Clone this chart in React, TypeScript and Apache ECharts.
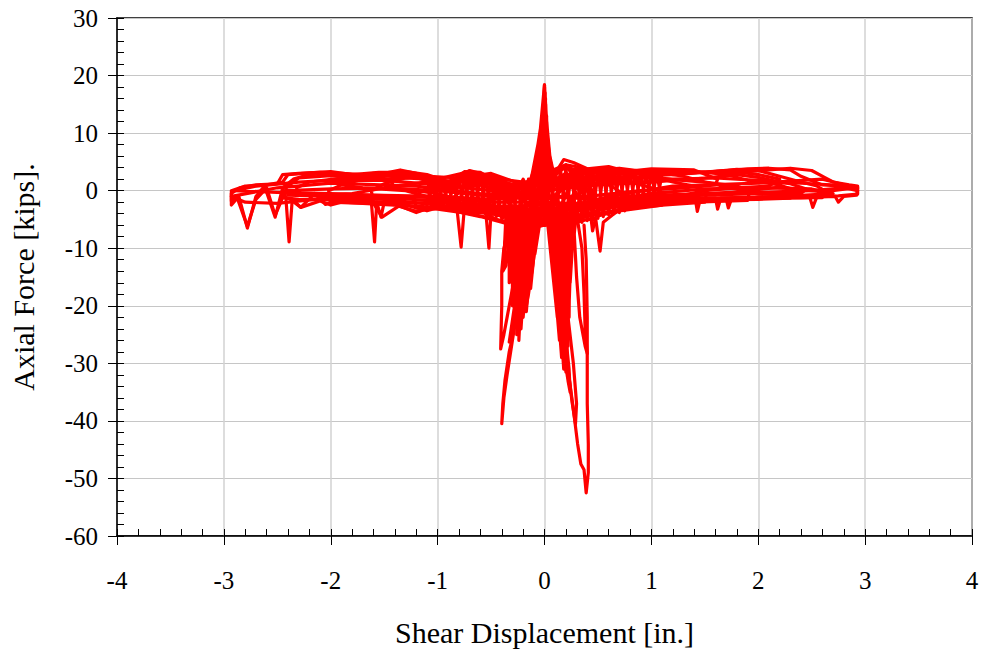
import React, { useEffect, useRef } from "react";
import * as echarts from "echarts";

// ---- axis definitions ----
const X_MIN = -4;
const X_MAX = 4;
const Y_MIN = -60;
const Y_MAX = 30;
const X_TITLE = "Shear Displacement [in.]";
const Y_TITLE = "Axial Force [kips].";

// ---- data: [shear displacement (in.), axial force (kips)] ----
const spikeUp1 = [[-0.13, 2], [-0.08, 4.5], [-0.04, 9], [-0.015, 13], [0.0, 18.4], [0.02, 12], [0.05, 6], [0.08, 3.5], [0.11, 2]];
const spikeUpFan = [[-0.13, 1.5], [-0.03, 11], [-0.115, 1.5], [-0.02, 13], [-0.1, 1.5], [-0.01, 15], [-0.085, 1.5], [0, 18.4], [-0.07, 1.5], [0.005, 17], [-0.055, 1.5], [0.01, 16], [-0.04, 1.5], [0.0, 18], [-0.025, 1.5], [0.01, 15], [-0.01, 1.5], [0.02, 13], [0.005, 1.5], [0.02, 12], [0.02, 1.5], [0.025, 10], [0.035, 1.5], [0.03, 9], [0.05, 1.5], [0.035, 8], [0.065, 1.5], [0.04, 7], [0.08, 1.5], [0.045, 6], [0.095, 1.5], [0.05, 5], [0.11, 1.5]];

const centerFill = [[-0.4, -5], [-0.2, 2], [0, -6], [0.2, 3], [0.4, -4], [0.3, 4], [0.1, -5.5], [-0.1, 3], [-0.3, -5.5], [-0.05, 4], [0.15, -6], [0.35, 3], [0.45, -3], [0.2, 4.5], [-0.25, -4], [-0.45, 1], [-0.2, -6], [0.05, 3]];
const bandFillA = [[-1.1, 2.5], [-1.05, -2.6], [-1.0, 1.8], [-0.95, -2.8], [-0.9, 1.2], [-0.85, -3], [-0.8, 2.2], [-0.75, -3.2], [-0.7, 3], [-0.65, -3.5], [-0.6, 2.8], [-0.55, -4], [-0.5, 2], [-0.45, -4.5], [-0.4, 1.5], [-0.35, -5], [-0.3, 1], [-0.25, -5.5], [-0.2, 1.5], [-0.15, -5.8], [-0.1, 2.5], [-0.05, -6], [0, 3], [0.05, -6], [0.1, 3.5], [0.15, -6], [0.2, 4], [0.25, -5.8], [0.3, 3.8], [0.35, -5.5], [0.4, 3.5], [0.45, -5], [0.5, 3.5], [0.55, -4.5], [0.6, 3.6], [0.65, -4], [0.7, 3.5], [0.75, -3.5], [0.8, 3.3], [0.85, -3], [0.9, 3.2], [0.95, -2.7], [1.0, 3.2], [1.05, -2.4], [1.1, 3]];
const bandFillB = [[-1.1, -2.5], [-1.05, 2.2], [-1.0, -2.7], [-0.95, 1.5], [-0.9, -2.9], [-0.85, 1.5], [-0.8, -3.1], [-0.75, 2.6], [-0.7, -3.3], [-0.65, 3], [-0.6, -3.8], [-0.55, 2.4], [-0.5, -4.2], [-0.45, 1.8], [-0.4, -4.8], [-0.35, 1.2], [-0.3, -5.3], [-0.25, 1.2], [-0.2, -5.6], [-0.15, 2], [-0.1, -5.9], [-0.05, 2.8], [0, -6], [0.05, 3.2], [0.1, -6], [0.15, 3.8], [0.2, -5.9], [0.25, 3.9], [0.3, -5.6], [0.35, 3.6], [0.4, -5.2], [0.45, 3.5], [0.5, -4.8], [0.55, 3.5], [0.6, -4.2], [0.65, 3.6], [0.7, -3.8], [0.75, 3.4], [0.8, -3.2], [0.85, 3.2], [0.9, -2.9], [0.95, 3.2], [1.0, -2.5], [1.05, 3.1], [1.1, -2.2]];

const right8a = [[0, -3], [0.2, -4], [0.4, -3], [0.6, -2.5], [0.8, -2], [1.0, -1.8], [1.2, -1.5], [1.41, -1.3], [1.43, -3.6], [1.46, -1.3], [1.8, -1.2], [2.0, -1.1], [2.3, -1], [2.48, -1], [2.51, -2.9], [2.55, -1], [2.75, -0.9], [2.93, -0.6], [2.93, 0.8], [2.85, 1], [2.7, 1.5], [2.62, 2.3], [2.5, 3.5], [2.3, 3.9], [2.1, 3.6], [1.9, 3.3], [1.7, 3], [1.5, 3.2], [1.3, 3.5], [1.1, 3.3], [0.9, 3.4], [0.7, 3.9], [0.5, 3.6], [0.3, 3], [0.15, 2], [0, 0]];
const right8b = [[0, -2], [0.3, -3], [0.6, -2], [1.0, -1.5], [1.5, -1.3], [1.6, -1.3], [1.62, -3.2], [1.65, -1.3], [2.0, -1.2], [2.4, -1.2], [2.72, -1], [2.75, -2], [2.8, -1], [2.92, -0.8], [2.93, 0.5], [2.8, 0.8], [2.6, 1], [2.4, 2.5], [2.3, 3.6], [2.1, 3.9], [1.9, 3.8], [1.6, 3.3], [1.2, 2.8], [0.8, 3], [0.4, 2.5], [0.1, 1], [0, -1]];
const right7 = [[0, -2], [0.3, -2.5], [0.7, -2], [1.0, -1.8], [1.5, -1.5], [1.7, -1.4], [1.72, -3], [1.75, -1.4], [2.2, -1.3], [2.6, -1.2], [2.62, 0], [2.55, 0.8], [2.4, 1.5], [2.2, 2.5], [2.0, 3.5], [1.8, 3.7], [1.5, 3.2], [1.2, 3.4], [0.9, 3.2], [0.6, 3.8], [0.3, 3.5], [0.1, 1.5], [0, -1]];
const right6 = [[0, -3], [0.3, -3.5], [0.6, -2.5], [1, -2], [1.5, -1.6], [2, -1.5], [2.3, -1.3], [2.32, 0.2], [2.2, 1], [1.9, 1.8], [1.7, 2.8], [1.5, 3.2], [1.2, 3], [0.9, 3.5], [0.6, 3.2], [0.3, 2.8], [0, 1]];
const right5 = [[0, -4], [0.3, -4.5], [0.6, -3], [1, -2.3], [1.4, -2], [1.9, -1.7], [1.92, 0], [1.8, 0.8], [1.5, 1.5], [1.3, 2.5], [1.0, 3.3], [0.7, 3.6], [0.4, 3.2], [0.2, 4], [0, 2]];
const right4 = [[0, -5], [0.3, -5], [0.5, -4], [0.8, -3], [1.1, -2.5], [1.5, -2], [1.52, 0], [1.4, 0.8], [1.2, 1.5], [1.0, 2.5], [0.8, 3.2], [0.6, 4.2], [0.4, 3.8], [0.2, 4.5], [0, 3]];
const right3 = [[0, -5.5], [0.2, -5], [0.43, -4], [0.45, -7], [0.48, -4.5], [0.7, -3.5], [1.1, -2.5], [1.12, -0.5], [1.0, 0.5], [0.8, 1.5], [0.6, 2.8], [0.4, 3.8], [0.27, 4.9], [0.18, 5.4], [0.1, 3], [0, 0]];
const right2 = [[0, -6], [0.2, -6], [0.4, -5], [0.48, -5], [0.52, -10.5], [0.55, -5.5], [0.65, -4], [0.75, -3], [0.77, -1], [0.65, 0.5], [0.5, 2], [0.3, 3.5], [0.15, 4], [0, 2]];
const right1 = [[0, -5], [0.2, -5.5], [0.35, -4], [0.45, -2], [0.45, 0], [0.35, 2], [0.2, 3], [0, 1]];
const rightInner = [[0, -1], [0.5, -1.5], [1.0, -0.8], [1.5, -0.5], [2.0, -0.3], [2.5, 0], [2.8, 0.5], [2.93, 0], [2.8, 0.9], [2.5, 1.2], [2.2, 1.5], [2.0, 2.3], [1.8, 2.8], [1.5, 2.2], [1.0, 1.5], [0.5, 1], [0, 0]];
const rightMid1 = [[0, -2], [0.5, -2.5], [1, -1.2], [1.5, -0.8], [2, -0.5], [2.4, -0.5], [2.45, 0.3], [2.3, 1.2], [2.0, 1.8], [1.6, 2.2], [1.2, 2], [0.8, 2.5], [0.4, 2], [0, 0.5]];
const rightMid2 = [[0, -3], [0.5, -3], [1, -2], [1.5, 0], [1.8, 0.5], [2.1, 0.8], [2.2, 2], [2.0, 2.8], [1.7, 3.5], [1.3, 3], [1, 2.5], [0.6, 1.8], [0.3, 2], [0, -2]];
const rightMid3 = [[0, -1], [0.4, -1], [0.9, 0], [1.3, 0.5], [1.6, 1], [1.62, 2], [1.4, 3.6], [1.0, 3.8], [0.6, 3], [0.3, 4], [0, -4]];
const rightMid4 = [[0, -4], [0.6, -1], [1.2, 0.8], [2.0, 1.3], [2.6, 2], [2.75, 1.3], [2.9, 0.5], [2.6, -0.2], [2.2, 0.6], [1.8, -0.2], [1.3, -0.8], [0.8, -1], [0.3, -3]];
const rightMid5 = [[0, -2.5], [0.5, -2], [1, -0.5], [1.5, 0.3], [2, 0.5], [2.5, 0.3], [2.7, -0.5], [2.4, -0.8], [2, -0.6], [1.5, 1.5], [1, 2.2], [0.5, 2.5], [0, 1.5]];

const left8a = [[0, -3], [-0.2, -5], [-0.4, -4.5], [-0.5, -3.5], [-0.52, -10], [-0.55, -3.5], [-0.75, -3], [-0.78, -9.8], [-0.82, -3], [-1.0, -2.5], [-1.2, -3.8], [-1.4, -2.3], [-1.5, -2], [-1.53, -4.6], [-1.57, -2], [-1.59, -8.9], [-1.62, -2], [-2.0, -2], [-2.05, -2.4], [-2.15, -0.5], [-2.28, -2.9], [-2.36, -1.5], [-2.39, -8.9], [-2.42, -1.2], [-2.45, 0.5], [-2.52, -4.6], [-2.62, 0.8], [-2.7, -1], [-2.78, -6.5], [-2.86, -1], [-2.93, -2.5], [-2.93, -0.5], [-2.85, 0.5], [-2.7, 1], [-2.5, 1.2], [-2.45, 2.8], [-2.3, 3], [-2.1, 3.2], [-1.9, 3], [-1.7, 2.8], [-1.5, 3], [-1.35, 3.6], [-1.2, 3], [-1.05, 1.5], [-0.9, 1.2], [-0.75, 3.3], [-0.6, 3.2], [-0.45, 1.5], [-0.25, 1], [-0.1, 2], [0, 0]];
const left8b = [[0, -2], [-0.3, -3], [-0.6, -2.5], [-1, -2], [-1.3, -2.2], [-1.7, -1.8], [-2, -1.6], [-2.3, -1.5], [-2.45, -1.2], [-2.52, -4.3], [-2.6, 0.5], [-2.7, -1.5], [-2.78, -6.2], [-2.88, -1], [-2.93, -1.8], [-2.93, 0], [-2.8, 0.8], [-2.6, 1], [-2.45, 1.5], [-2.4, 2.8], [-2.2, 3.1], [-2.0, 3.3], [-1.8, 2.8], [-1.55, 3.2], [-1.3, 3.2], [-1.1, 2.5], [-0.9, 1.5], [-0.7, 3.5], [-0.5, 2.5], [-0.3, 1], [0, -1]];
const left7 = [[0, -3], [-0.3, -4], [-0.6, -3], [-0.9, -2.5], [-1.1, -3.5], [-1.3, -2.5], [-1.6, -2.2], [-1.9, -2], [-2.0, -2.5], [-2.1, -1.8], [-2.28, -2.9], [-2.38, -1.5], [-2.45, -1], [-2.45, 0.5], [-2.35, 2], [-2.2, 2.8], [-2.0, 3], [-1.7, 2.5], [-1.5, 2.8], [-1.3, 3.3], [-1.1, 2.8], [-0.9, 1.5], [-0.7, 3], [-0.5, 2], [-0.3, 0.5], [0, 0]];
const left6 = [[0, -4], [-0.3, -4.5], [-0.55, -3.5], [-0.8, -3], [-1.0, -2.8], [-1.2, -3.6], [-1.4, -2.5], [-1.7, -2.2], [-2.0, -2], [-2.02, 0], [-1.9, 1], [-1.7, 2], [-1.5, 2.8], [-1.3, 3.2], [-1.1, 2.5], [-0.9, 1.2], [-0.7, 2.5], [-0.5, 1.5], [-0.2, 0.5], [0, 1]];
const left5 = [[0, -5], [-0.25, -5], [-0.5, -4], [-0.8, -3.5], [-1.1, -2.8], [-1.35, -2.5], [-1.52, -4.6], [-1.6, -2.2], [-1.62, 0], [-1.5, 1.2], [-1.3, 2.2], [-1.1, 2], [-0.9, 1], [-0.75, 2.8], [-0.55, 2.5], [-0.3, 1], [0, 2]];
const left4 = [[0, -5.5], [-0.2, -6], [-0.45, -5], [-0.7, -4], [-1.0, -3.2], [-1.2, -3], [-1.22, -1], [-1.1, 0.5], [-0.9, 1], [-0.7, 2], [-0.5, 1.5], [-0.3, 0.5], [-0.1, 1.5], [0, 0]];
const left3 = [[0, -6], [-0.2, -6.5], [-0.4, -5.5], [-0.6, -4.5], [-0.85, -3.5], [-0.87, -1.5], [-0.75, 0.5], [-0.6, 2], [-0.45, 1.5], [-0.3, 0], [-0.1, -1], [0, -3]];
const left2 = [[0, -6], [-0.15, -6.5], [-0.3, -6], [-0.45, -5], [-0.55, -4], [-0.56, -2], [-0.45, -0.5], [-0.3, 0.2], [-0.15, 0.5], [0, -1]];
const leftInner = [[0, -1], [-0.5, -1.5], [-1, -1], [-1.5, -0.8], [-2, -0.5], [-2.5, -0.3], [-2.9, 0], [-2.7, 0.8], [-2.3, 1.5], [-2, 1.8], [-1.5, 1.8], [-1, 1], [-0.5, 0], [0, -0.5]];
const leftMid1 = [[0, -2], [-0.5, -2], [-1, -1.2], [-1.5, -1], [-2, -0.8], [-2.3, -0.5], [-2.32, 0.5], [-2.2, 1.5], [-1.9, 2.2], [-1.5, 2], [-1.2, 2.3], [-0.9, 0.5], [-0.6, 1], [-0.3, -0.5], [0, -1]];
const leftMid2 = [[0, -3], [-0.5, -3.5], [-0.9, -2], [-1.3, 0], [-1.7, 0.5], [-1.9, 1], [-1.8, 2.5], [-1.6, 3], [-1.2, 2.6], [-0.8, 2.2], [-0.5, 3], [-0.2, 1], [0, -2]];
const leftMid3 = [[0, -4], [-0.5, -3], [-1, -0.5], [-1.4, 0.5], [-1.45, 2], [-1.3, 3], [-1.0, 2], [-0.7, 3.3], [-0.4, 2], [0, 1]];
const leftMid4 = [[0, -1], [-0.6, -0.5], [-1.2, 0.8], [-2.0, 1.3], [-2.5, 0.5], [-2.93, -1], [-2.8, -2], [-2.5, -2.2], [-2.0, -1.2], [-1.5, -1.5], [-1.0, -2.5], [-0.5, -4], [0, -5]];
const leftMid5 = [[0, -2.5], [-0.5, -2.8], [-1, -1.8], [-1.5, -1.2], [-2, -1], [-2.4, -0.8], [-2.42, 0.5], [-2.3, 2.2], [-2, 2.6], [-1.7, 2.2], [-1.4, 2.6], [-1.15, 2.2], [-0.9, 0.8], [-0.7, 2], [-0.4, 0.5], [0, -1.5]];
const leftMid6 = [[0, -1.5], [-0.5, -1], [-1, 0], [-1.5, 0.5], [-2, 0.3], [-2.4, 0], [-2.2, -0.8], [-1.8, -0.5], [-1.4, 0.8], [-1, 1.8], [-0.6, 1.5], [0, -0.5]];

const spikeDownL1 = [[-0.05, -4], [-0.12, -10], [-0.2, -17], [-0.27, -23], [-0.33, -28], [-0.37, -33], [-0.39, -37], [-0.4, -40.5], [-0.38, -36], [-0.35, -32], [-0.3, -26], [-0.24, -19], [-0.17, -13], [-0.1, -7], [-0.05, -4]];
const spikeDownL2 = [[-0.3, -5], [-0.38, -10], [-0.4, -14], [-0.4, -20], [-0.41, -27.5], [-0.38, -25], [-0.33, -20], [-0.27, -14], [-0.2, -9], [-0.12, -5]];
const spikeDownL3 = [[-0.1, -5], [-0.2, -12], [-0.28, -20], [-0.33, -26.3], [-0.3, -24], [-0.24, -18], [-0.17, -11], [-0.08, -5]];
const spikeDownL4 = [[-0.08, -5], [-0.13, -10], [-0.17, -16], [-0.18, -21], [-0.15, -18], [-0.11, -13], [-0.06, -6]];
const spikeDownL5 = [[-0.3, -4], [-0.37, -9], [-0.39, -14], [-0.36, -13], [-0.33, -8], [-0.28, -4]];
const spikeDownLFan = [[-0.36, -4], [-0.38, -12], [-0.33, -4], [-0.33, -16], [-0.3, -4], [-0.3, -20], [-0.27, -4], [-0.28, -23], [-0.24, -4], [-0.26, -25], [-0.21, -4], [-0.24, -26], [-0.18, -4], [-0.22, -24], [-0.15, -4], [-0.2, -22], [-0.12, -4], [-0.17, -21], [-0.09, -4], [-0.13, -17], [-0.06, -4], [-0.09, -11], [-0.03, -4]];

const spikeDownR1 = [[0.05, -4], [0.1, -10], [0.14, -18], [0.18, -25], [0.22, -31], [0.27, -38], [0.31, -44], [0.34, -47.5], [0.37, -48.5], [0.39, -52.5], [0.41, -49], [0.41, -44], [0.4, -37], [0.4, -30], [0.4, -22], [0.39, -12], [0.37, -6]];
const spikeDownR2 = [[0.05, -4], [0.1, -12], [0.16, -22], [0.22, -31], [0.26, -37], [0.29, -40.5], [0.3, -37], [0.27, -30], [0.22, -22], [0.16, -13], [0.1, -5]];
const spikeDownR4 = [[0.3, -4], [0.35, -10], [0.37, -18], [0.38, -24], [0.4, -28.3], [0.38, -27], [0.33, -22], [0.3, -15], [0.28, -8], [0.25, -4]];
const spikeDownR8 = [[0.04, -5], [0.1, -15], [0.17, -27], [0.22, -33], [0.24, -35], [0.23, -31], [0.18, -22], [0.12, -12], [0.06, -5]];
const spikeDownRFan = [[0.02, -4], [0.12, -22], [0.04, -4], [0.14, -26], [0.06, -4], [0.16, -29], [0.08, -4], [0.18, -31], [0.1, -4], [0.19, -30], [0.12, -4], [0.2, -31.5], [0.14, -4], [0.21, -30], [0.16, -4], [0.21, -28], [0.18, -4], [0.22, -27], [0.2, -4], [0.22, -25], [0.22, -4], [0.23, -22], [0.24, -4], [0.23, -20], [0.26, -4], [0.24, -16], [0.28, -4], [0.25, -12], [0.3, -4]];

const CURVES = [
  right8a, right8b, right7, right6, right5, right4, right3, right2, right1, rightInner,
  rightMid1, rightMid2, rightMid3, rightMid4, rightMid5,
  left8a, left8b, left7, left6, left5, left4, left3, left2, leftInner,
  leftMid1, leftMid2, leftMid3, leftMid4, leftMid5, leftMid6,
  centerFill, bandFillA, bandFillB,
  spikeUp1, spikeUpFan,
  spikeDownL1, spikeDownL2, spikeDownL3, spikeDownL4, spikeDownL5, spikeDownLFan,
  spikeDownR1, spikeDownR2, spikeDownR4, spikeDownR8, spikeDownRFan,
];

const FONT = "'Liberation Serif', 'Times New Roman', serif";

export default function App() {
  const ref = useRef<HTMLDivElement>(null);
  useEffect(() => {
    if (!ref.current) return;
    const chart = echarts.init(ref.current, undefined, { renderer: "svg" });
    chart.setOption({
      animation: false,
      backgroundColor: "#ffffff",
      grid: {
        left: 116, top: 18, width: 856, height: 520,
        show: true, borderColor: "#000", borderWidth: 1.5, backgroundColor: "transparent",
      },
      xAxis: [
        {
          type: "value", min: X_MIN, max: X_MAX, interval: 1,
          name: X_TITLE, nameLocation: "middle", nameGap: 81,
          nameTextStyle: { fontFamily: FONT, fontSize: 30, color: "#000" },
          axisLine: { show: true, onZero: false, lineStyle: { color: "#000", width: 1.5 } },
          axisTick: { show: true, inside: true, length: 7, lineStyle: { color: "#000" } },
          minorTick: { show: true, splitNumber: 5, length: 7, lineStyle: { color: "#000" } },
          axisLabel: { fontFamily: FONT, fontSize: 25, color: "#000", margin: 32 },
          splitLine: { show: true, lineStyle: { color: "#d2d2d2", width: 1.5 } },
        },
        {
          type: "value", min: X_MIN, max: X_MAX, interval: 1, position: "bottom",
          axisLine: { show: false, onZero: false }, axisLabel: { show: false }, splitLine: { show: false },
          axisTick: { show: true, inside: false, length: 9, lineStyle: { color: "#000" } },
        },
      ],
      yAxis: [
        {
          type: "value", min: Y_MIN, max: Y_MAX, interval: 10,
          name: Y_TITLE, nameLocation: "middle", nameGap: 79,
          nameTextStyle: { fontFamily: FONT, fontSize: 30, color: "#000" },
          axisLine: { show: true, onZero: false, lineStyle: { color: "#000", width: 1.5 } },
          axisTick: { show: true, inside: true, length: 7, lineStyle: { color: "#000" } },
          minorTick: { show: true, splitNumber: 5, length: 7, lineStyle: { color: "#000" } },
          axisLabel: { fontFamily: FONT, fontSize: 25, color: "#000", margin: 19 },
          splitLine: { show: true, lineStyle: { color: "#c6c6c6", width: 1 } },
        },
        {
          type: "value", min: Y_MIN, max: Y_MAX, interval: 10, position: "left",
          axisLine: { show: false, onZero: false }, axisLabel: { show: false }, splitLine: { show: false },
          axisTick: { show: true, inside: false, length: 9, lineStyle: { color: "#000" } },
        },
      ],
      series: CURVES.map((d) => ({
        type: "line",
        data: d,
        xAxisIndex: 0,
        yAxisIndex: 0,
        showSymbol: false,
        symbol: "none",
        silent: true,
        lineStyle: { color: "#ff0000", width: 3.2, join: "round", cap: "round" },
        z: 3,
      })),
    });
    return () => chart.dispose();
  }, []);
  return (
    <div
      ref={ref}
      style={{ position: "absolute", left: 0, top: 0, width: 982, height: 652, background: "#fff" }}
    />
  );
}
